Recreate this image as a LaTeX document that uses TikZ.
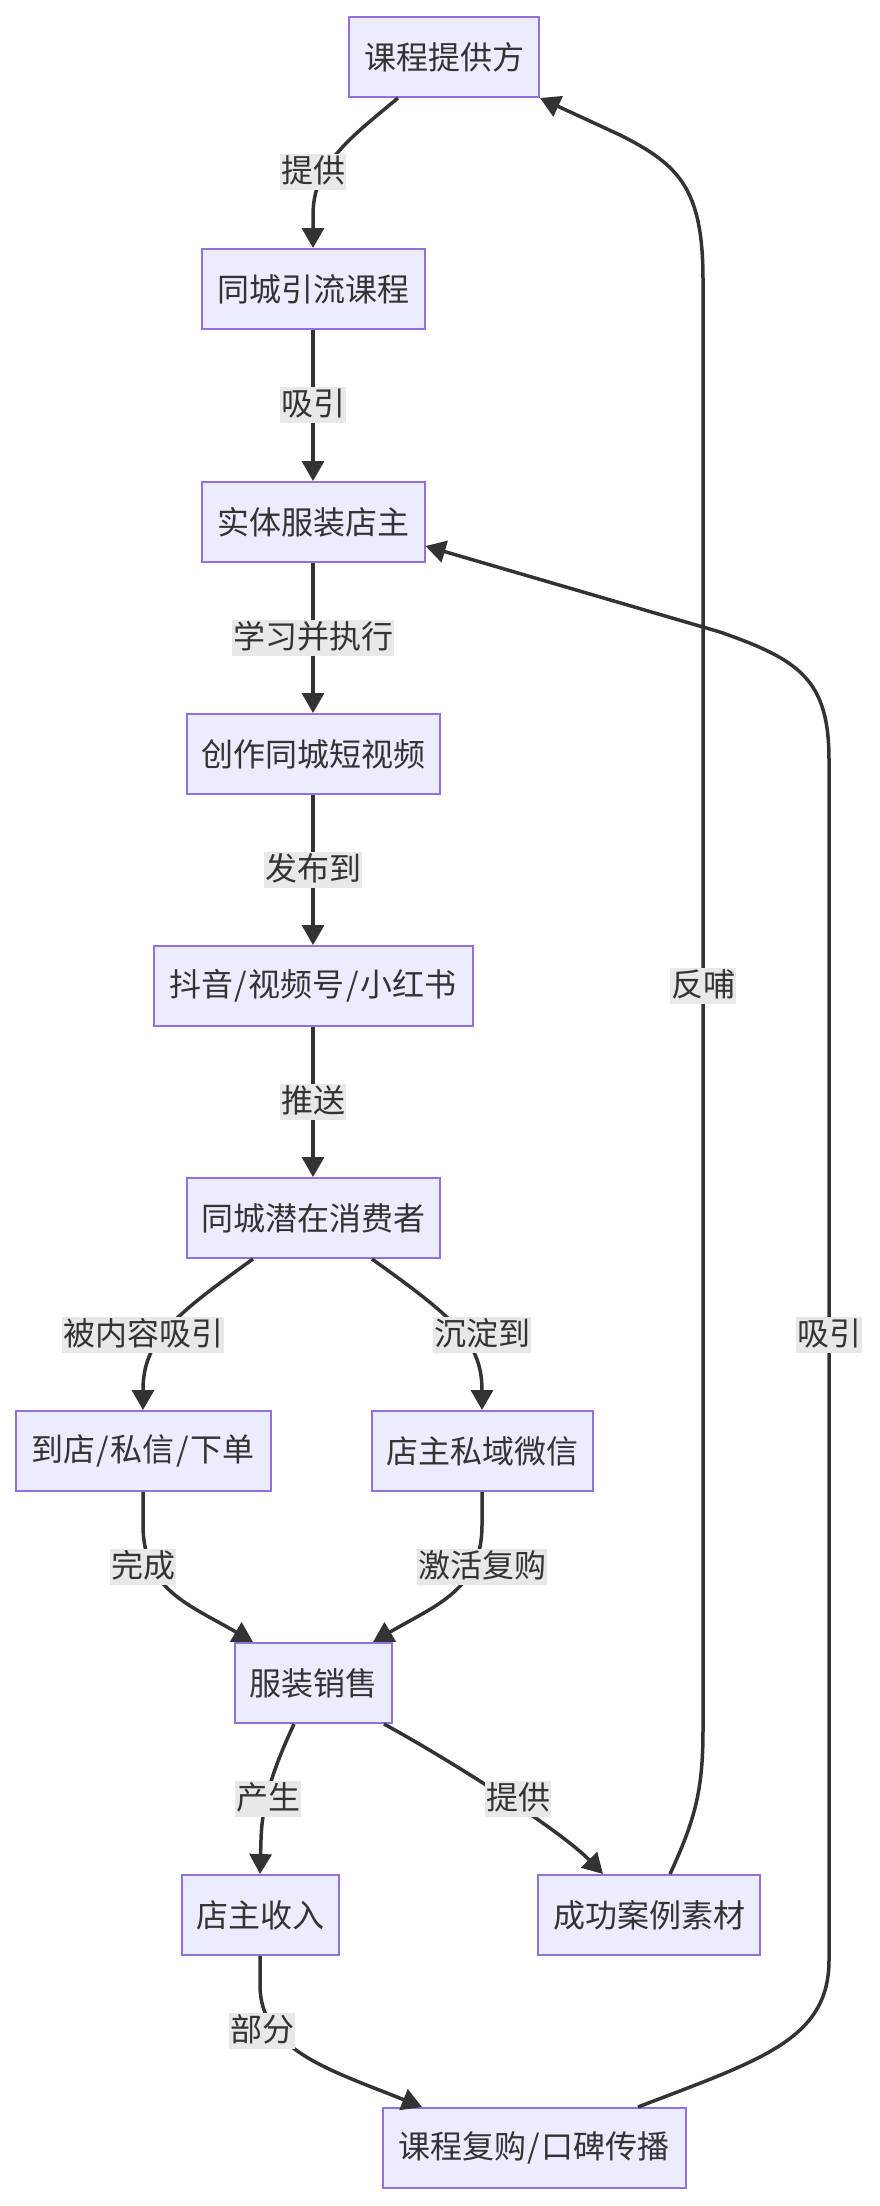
\documentclass[tikz,border=0pt]{standalone}
\usepackage{fontspec}
\newfontfamily\cjk{Noto Sans CJK SC}
\usetikzlibrary{arrows.meta}
\definecolor{nodefill}{HTML}{ECECFF}
\definecolor{nodeline}{HTML}{9370DB}
\definecolor{edgecol}{HTML}{333333}
\definecolor{lblfill}{HTML}{E8E8E8}
\newcommand{\slsh}{\kern1.5pt/\kern1.5pt}
\begin{document}
\begin{tikzpicture}[x=1pt,y=-1pt,
 box/.style={draw=nodeline, fill=nodefill, line width=2pt, minimum height=80pt, inner sep=0pt, font=\cjk\fontsize{32}{38}\selectfont, text=edgecol},
 lbl/.style={fill=lblfill, inner xsep=1pt, inner ysep=0pt, text height=28pt, text depth=8pt, font=\cjk\fontsize{32}{38}\selectfont, text=edgecol},
 link/.style={draw=edgecol, line width=3.5pt, -{Triangle[width=22pt,length=20pt]}},
]
\useasboundingbox (0,0) rectangle (880,2206);
\node[box, minimum width=190pt] (n1) at (444,57) {课程提供方};
\node[box, minimum width=223pt] (n2) at (313,289) {同城引流课程};
\node[box, minimum width=223pt] (n3) at (313,522) {实体服装店主};
\node[box, minimum width=253pt] (n4) at (313,754) {创作同城短视频};
\node[box, minimum width=319pt] (n5) at (313,986) {抖音\slsh 视频号\slsh 小红书};
\node[box, minimum width=253pt] (n6) at (313,1218) {同城潜在消费者};
\node[box, minimum width=255pt] (n7) at (143,1451) {到店\slsh 私信\slsh 下单};
\node[box, minimum width=221pt] (n8) at (482,1451) {店主私域微信};
\node[box, minimum width=157pt] (n9) at (313,1683) {服装销售};
\node[box, minimum width=157pt] (n10) at (260,1915) {店主收入};
\node[box, minimum width=222pt] (n11) at (649,1915) {成功案例素材};
\node[box, minimum width=303pt] (n12) at (534,2148) {课程复购\slsh 口碑传播};

\draw[link] ([xshift=-46pt]n1.south) .. controls (350,138) and (313,165) .. (313,215) -- (n2.north);
\draw[link] (n2.south) -- (n3.north);
\draw[link] (n3.south) -- (n4.north);
\draw[link] (n4.south) -- (n5.north);
\draw[link] (n5.south) -- (n6.north);
\draw[link] ([xshift=-60pt]n6.south) .. controls (175,1315) and (143,1340) .. (143,1390) -- (n7.north);
\draw[link] ([xshift=59pt]n6.south) .. controls (450,1315) and (482,1340) .. (482,1390) -- (n8.north);
\draw[link] (n7.south) -- (143,1525) .. controls (143,1590) and (190,1605) .. ([xshift=-60pt]n9.north);
\draw[link] (n8.south) -- (482,1525) .. controls (482,1590) and (436,1605) .. ([xshift=60pt]n9.north);
\draw[link] ([xshift=-19pt]n9.south) .. controls (275,1765) and (262,1800) .. (261,1840) -- (n10.north);
\draw[link] ([xshift=71pt]n9.south) .. controls (450,1760) and (560,1830) .. ([xshift=-46pt]n11.north);
\draw[link] (n10.south) -- (260,1985) .. controls (260,2050) and (330,2070) .. ([xshift=-112pt]n12.north);
\draw[link] ([xshift=21pt]n11.north) .. controls (695,1820) and (703,1790) .. (703,1730) -- (703,280) .. controls (703,190) and (680,165) .. (620,135) -- (n1.south east);
\draw[link] ([xshift=104pt]n12.north) .. controls (760,2060) and (829,2040) .. (829,1960) -- (829,760) .. controls (829,680) and (800,660) .. (720,632) -- ([yshift=-24pt]n3.east);

\node[lbl] (l1) at (313,172) {提供};
\node[lbl] (l2) at (313,405) {吸引};
\node[lbl] (l3) at (313,638) {学习并执行};
\node[lbl] (l4) at (313,870) {发布到};
\node[lbl] (l5) at (313,1102) {推送};
\node[lbl] (l6) at (143,1335) {被内容吸引};
\node[lbl] (l7) at (482,1335) {沉淀到};
\node[lbl] (l8) at (143,1567) {完成};
\node[lbl] (l9) at (482,1567) {激活复购};
\node[lbl] (l10) at (268,1799) {产生};
\node[lbl] (l11) at (518,1799) {提供};
\node[lbl] (l12) at (262,2031) {部分};
\node[lbl] (l13) at (703,986) {反哺};
\node[lbl] (l14) at (829,1335) {吸引};
\end{tikzpicture}
\end{document}
